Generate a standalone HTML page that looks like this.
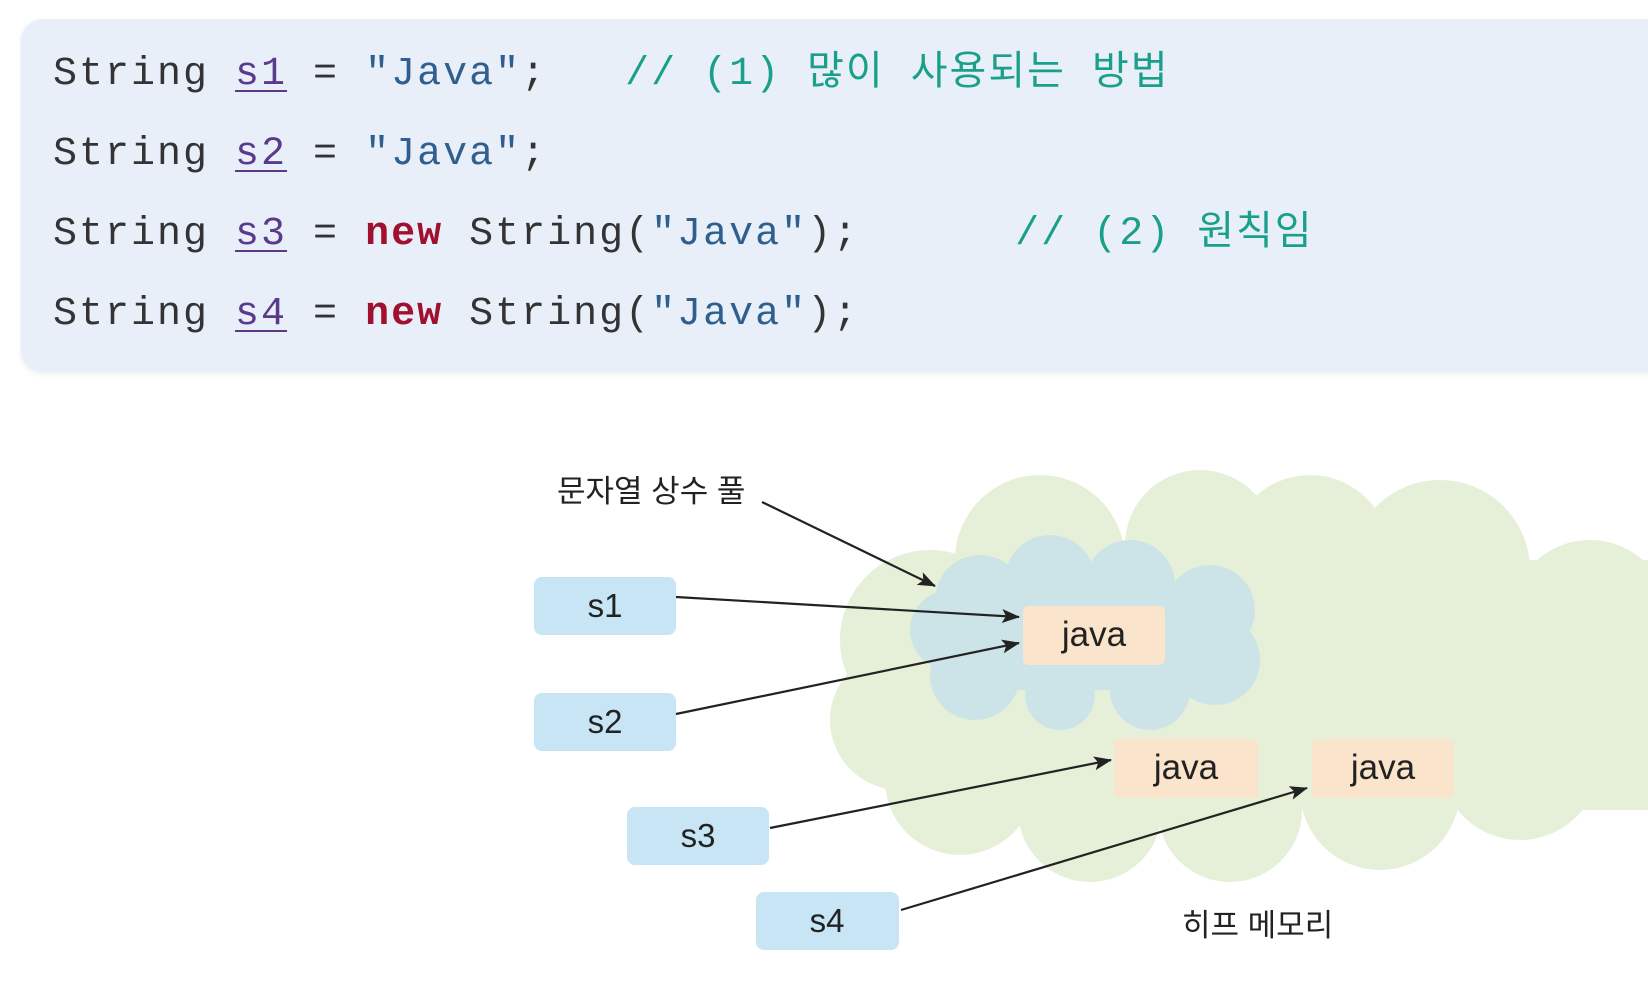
<!DOCTYPE html>
<html><head><meta charset="utf-8"><style>
html,body{margin:0;padding:0;background:#fff;width:1648px;height:1000px;overflow:hidden}
.code{position:absolute;left:21px;top:19px;width:1660px;height:353px;background:#e9eff8;border-radius:22px;box-shadow:0 2px 6px rgba(0,0,0,0.08)}
.ln{position:absolute;left:53px;font-family:"Liberation Mono","Noto Sans CJK KR",monospace;font-size:40px;line-height:50px;height:50px;letter-spacing:2px;color:#333;white-space:pre}
.v{text-decoration:underline;text-decoration-thickness:2px;text-underline-offset:6px;color:#5a3a8a}
.s{color:#2f5f8f}.k{color:#a01030;font-weight:bold}.c{color:#1aa08a}
</style></head><body>
<div class="code"></div>
<div class="ln" style="top:50px">String <span class="v">s1</span> = <span class="s">"Java"</span>;   <span class="c">// (1) 많이 사용되는 방법</span></div>
<div class="ln" style="top:130px">String <span class="v">s2</span> = <span class="s">"Java"</span>;</div>
<div class="ln" style="top:210px">String <span class="v">s3</span> = <span class="k">new</span> String(<span class="s">"Java"</span>);      <span class="c">// (2) 원칙임</span></div>
<div class="ln" style="top:290px">String <span class="v">s4</span> = <span class="k">new</span> String(<span class="s">"Java"</span>);</div>
<svg width="1648" height="1000" style="position:absolute;left:0;top:0" font-family="Liberation Sans, Noto Sans CJK KR, sans-serif">
<defs><marker id="a" markerWidth="18" markerHeight="14" refX="17" refY="7" orient="auto" markerUnits="userSpaceOnUse"><path d="M0,0 L18,7 L0,14 L4,7z" fill="#222"/></marker></defs>
<g fill="#e6efd8">
<circle cx="1040" cy="560" r="85"/><circle cx="1200" cy="545" r="75"/><circle cx="1310" cy="555" r="80"/><circle cx="1440" cy="570" r="90"/><circle cx="1590" cy="620" r="80"/>
<circle cx="930" cy="640" r="90"/><circle cx="900" cy="720" r="70"/><circle cx="960" cy="780" r="75"/><circle cx="1090" cy="810" r="72"/><circle cx="1230" cy="810" r="72"/><circle cx="1380" cy="790" r="80"/><circle cx="1520" cy="760" r="80"/><circle cx="1620" cy="720" r="60"/>
<rect x="930" y="560" width="718" height="250"/><rect x="880" y="620" width="200" height="150"/>
</g>
<g fill="#cce4e8">
<circle cx="980" cy="600" r="45"/><circle cx="1050" cy="580" r="45"/><circle cx="1130" cy="585" r="45"/><circle cx="1210" cy="610" r="45"/><circle cx="1215" cy="660" r="45"/><circle cx="1150" cy="690" r="40"/><circle cx="1060" cy="695" r="35"/><circle cx="975" cy="675" r="45"/><circle cx="950" cy="630" r="40"/>
<rect x="970" y="590" width="250" height="100"/>
</g>
<g fill="#c7e5f5">
<rect x="534" y="577" width="142" height="58" rx="8"/><rect x="534" y="693" width="142" height="58" rx="8"/><rect x="627" y="807" width="142" height="58" rx="8"/><rect x="756" y="892" width="143" height="58" rx="8"/>
</g>
<g fill="#fbe4cc">
<rect x="1023" y="606" width="142" height="59" rx="5"/><rect x="1114" y="739" width="144" height="59" rx="5"/><rect x="1312" y="739" width="142" height="59" rx="5"/>
</g>
<g font-size="33" fill="#222" text-anchor="middle">
<text x="605" y="617">s1</text><text x="605" y="733">s2</text><text x="698" y="847">s3</text><text x="827" y="932">s4</text>
<text x="1094" y="646" font-size="35">java</text><text x="1186" y="779" font-size="35">java</text><text x="1383" y="779" font-size="35">java</text>
</g>
<text x="557" y="502" font-size="31" fill="#222">문자열 상수 풀</text>
<text x="1182" y="936" font-size="31" fill="#222">히프 메모리</text>
<g stroke="#222" stroke-width="2.2" fill="none" marker-end="url(#a)">
<line x1="762" y1="502" x2="935" y2="586"/><line x1="676" y1="597" x2="1019" y2="617"/><line x1="676" y1="714" x2="1019" y2="643"/><line x1="770" y1="828" x2="1111" y2="760"/><line x1="901" y1="910" x2="1307" y2="788"/>
</g>
</svg>
</body></html>
